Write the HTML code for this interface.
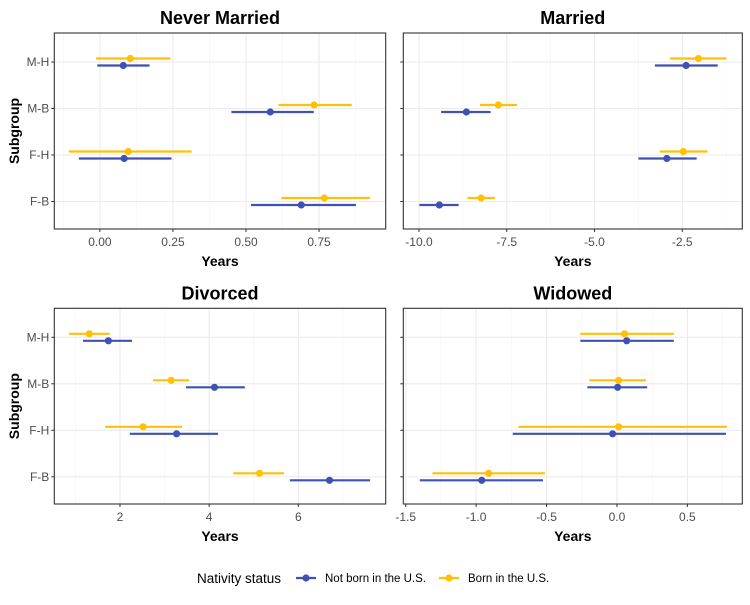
<!DOCTYPE html>
<html><head><meta charset="utf-8"><style>
body{margin:0;background:#fff}
svg{display:block;font-family:"Liberation Sans",Arial,sans-serif}
</style></head><body>
<svg id="chart" width="750" height="605" viewBox="0 0 750 605"></svg>
<script>
const categories = ["M-H","M-B","F-H","F-B"];
const panelTitles = ["Never Married","Married","Divorced","Widowed"];
// per panel: [est, lo, hi] per category
const nmBlue = [[0.080,-0.009,0.170],[0.583,0.450,0.732],[0.083,-0.072,0.245],[0.689,0.517,0.876]];
const nmYellow = [[0.104,-0.013,0.242],[0.733,0.611,0.862],[0.097,-0.106,0.314],[0.768,0.621,0.924]];
const mBlue = [[-2.39,-3.28,-1.49],[-8.65,-9.37,-7.96],[-2.94,-3.75,-2.09],[-9.42,-9.99,-8.87]];
const mYellow = [[-2.04,-2.85,-1.24],[-7.74,-8.26,-7.21],[-2.47,-3.14,-1.78],[-8.23,-8.62,-7.84]];
const dBlue = [[1.74,1.17,2.27],[4.12,3.48,4.80],[3.27,2.22,4.20],[6.70,5.81,7.61]];
const dYellow = [[1.31,0.856,1.77],[3.15,2.74,3.55],[2.52,1.67,3.39],[5.13,4.54,5.68]];
const wBlue = [[0.069,-0.26,0.404],[0.005,-0.21,0.215],[-0.031,-0.74,0.774],[-0.96,-1.40,-0.525]];
const wYellow = [[0.054,-0.26,0.404],[0.012,-0.196,0.206],[0.012,-0.70,0.78],[-0.911,-1.31,-0.511]];
const nmTicks = [0,0.25,0.5,0.75], nmTickLabels=["0.00","0.25","0.50","0.75"];
const mTicks = [-10,-7.5,-5,-2.5], mTickLabels=["-10.0","-7.5","-5.0","-2.5"];
const dTicks = [2,4,6], dTickLabels=["2","4","6"];
const wTicks = [-1.5,-1,-0.5,0,0.5], wTickLabels=["-1.5","-1.0","-0.5","0.0","0.5"];

const NS="http://www.w3.org/2000/svg";
const svg=document.getElementById('chart');
function el(tag,attrs,parent){const e=document.createElementNS(NS,tag);for(const k in attrs)e.setAttribute(k,attrs[k]);(parent||svg).appendChild(e);return e;}
const BLUE="#3F51B5", YEL="#FFC107";

const panels=[
 {name:"never-married",x0:54.3,x1:385.7,y0:33,y1:229,dom:[-0.156,0.978],ticks:nmTicks,labels:nmTickLabels,minor:[-0.125,0.125,0.375,0.625,0.875],blue:nmBlue,yel:nmYellow,ylab:true,title:panelTitles[0]},
 {name:"married",x0:403.3,x1:742.3,y0:33,y1:229,dom:[-10.447,-0.79],ticks:mTicks,labels:mTickLabels,minor:[-8.75,-6.25,-3.75,-1.25],blue:mBlue,yel:mYellow,ylab:false,title:panelTitles[1]},
 {name:"divorced",x0:54.3,x1:385.7,y0:308.3,y1:504,dom:[0.527,7.96],ticks:dTicks,labels:dTickLabels,minor:[1,3,5,7],blue:dBlue,yel:dYellow,ylab:true,title:panelTitles[2]},
 {name:"widowed",x0:403.3,x1:742.3,y0:308.3,y1:504,dom:[-1.517,0.89],ticks:wTicks,labels:wTickLabels,minor:[-1.25,-0.75,-0.25,0.25,0.75],blue:wBlue,yel:wYellow,ylab:false,title:panelTitles[3]}
];

panels.forEach(p=>{
  const g=el('g',{});
  
  
  const xs=v=>p.x0+(v-p.dom[0])/(p.dom[1]-p.dom[0])*(p.x1-p.x0);
  const h=p.y1-p.y0;
  const ycat=i=>p.y0+29+i*46.5;
  p.minor.forEach(v=>{const l=el('line',{x1:xs(v),x2:xs(v),y1:p.y0,y2:p.y1,stroke:"#f3f3f3","stroke-width":0.6},g);
    });
  p.ticks.forEach((v,i)=>{const l=el('line',{x1:xs(v),x2:xs(v),y1:p.y0,y2:p.y1,stroke:"#ebebeb","stroke-width":1.1},g);
    
    const tk=el('line',{x1:xs(v),x2:xs(v),y1:p.y1,y2:p.y1+3,stroke:"#333","stroke-width":1},g);
    
    const t=el('text',{x:xs(v),y:p.y1+17,"text-anchor":"middle","font-size":12,fill:"#4d4d4d"},g);t.textContent=p.labels[i];
    });
  categories.forEach((c,i)=>{const y=ycat(i);
    const l=el('line',{x1:p.x0,x2:p.x1,y1:y,y2:y,stroke:"#ebebeb","stroke-width":1.1},g);
    
    const tk=el('line',{x1:p.x0-3,x2:p.x0,y1:y,y2:y,stroke:"#333","stroke-width":1},g);
    
    if(p.ylab){const t=el('text',{x:p.x0-5,y:y+4,"text-anchor":"end","font-size":12,fill:"#4d4d4d"},g);t.textContent=c;
      }
    [[p.yel[i],YEL,-3.5,'born-us'],[p.blue[i],BLUE,3.5,'not-born-us']].forEach(([d,col,off,nm])=>{
      const yy=y+off;
      const ln=el('line',{x1:xs(d[1]),x2:xs(d[2]),y1:yy,y2:yy,stroke:col,"stroke-width":2.2},g);
      
      const pt=el('circle',{cx:xs(d[0]),cy:yy,r:3.6,fill:col},g);
      
    });
  });
  const b=el('rect',{x:p.x0,y:p.y0,width:p.x1-p.x0,height:h,fill:"none",stroke:"#333","stroke-width":1.1},g);
  
  const tt=el('text',{x:(p.x0+p.x1)/2,y:p.y0-9,"text-anchor":"middle","font-size":18,"font-weight":"bold",fill:"#000"},g);tt.textContent=p.title;
  
  const xt=el('text',{x:(p.x0+p.x1)/2,y:p.y1+37,"text-anchor":"middle","font-size":14,"font-weight":"bold",fill:"#000"},g);xt.textContent="Years";
  
  if(p.ylab){const cy=(p.y0+p.y1)/2;const yt=el('text',{x:19,y:cy,"text-anchor":"middle","font-size":14,"font-weight":"bold",fill:"#000",transform:`rotate(-90 19 ${cy})`},g);yt.textContent="Subgroup";
    }
});

// legend
const lg=el('g',{});


const lt=el('text',{x:197,y:583,"font-size":13.5,fill:"#000"},lg);lt.textContent="Nativity status";

[[296,BLUE,"Not born in the U.S.",'legend-entry-not-born-us'],[439,YEL,"Born in the U.S.",'legend-entry-born-us']].forEach(([x,col,txt,nm])=>{
  const e=el('g',{},lg);
  
  
  el('line',{x1:x,x2:x+20,y1:578,y2:578,stroke:col,"stroke-width":2.2},e);
  el('circle',{cx:x+10,cy:578,r:3.6,fill:col},e);
  const t=el('text',{x:x+29,y:582,"font-size":11.5,fill:"#000"},e);t.textContent=txt;
});
</script>
</body></html>
